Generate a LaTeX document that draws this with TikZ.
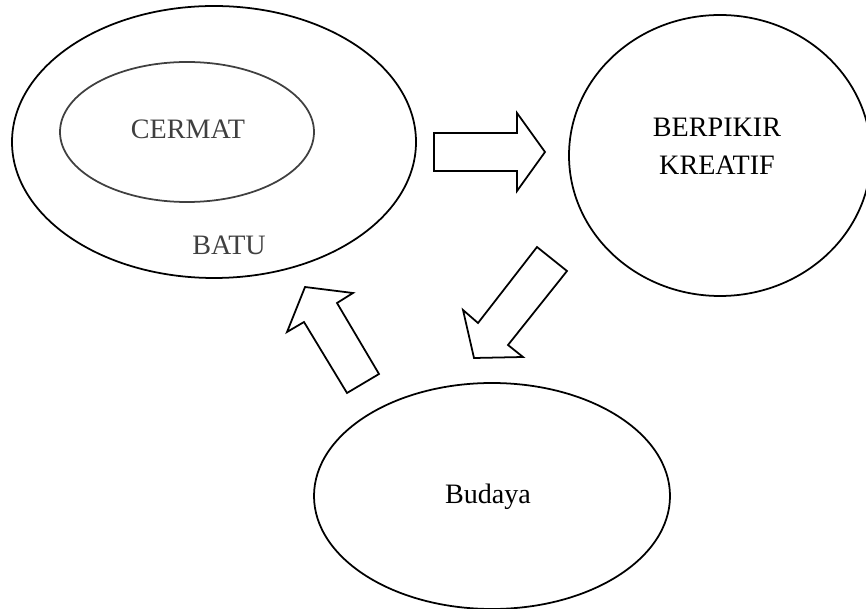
\documentclass[tikz,border=0pt]{standalone}
\usepackage{fontspec}
\setmainfont{Liberation Serif}
\usepackage{tikz}

\begin{document}
\begin{tikzpicture}[x=0.2mm,y=-0.2mm]
\tikzstyle{every node}+=[inner sep=0pt,font=\fontsize{16}{21.5}\selectfont]
\tikzstyle{blok}=[black,line width=1pt,line join=miter]
\clip (0,0) rectangle (866,609);
\useasboundingbox (0,0) rectangle (866,609);
% BATU and CERMAT
\draw [black,line width=1pt] (214,142) ellipse (202 and 136);
\draw [black!75,line width=1pt] (187,132) ellipse (127 and 70);
\node [text=black!75] (cermat) at (188,129) {CERMAT};
\node [text=black!75] (batu) at (229,245) {BATU};
% BERPIKIR KREATIF
\draw [black,line width=1pt] (720,155.5) ellipse (151 and 140.5);
\node [align=center] (kreatif) at (717,146) {BERPIKIR\\KREATIF};
% Budaya
\draw [black,line width=1pt] (492,496) ellipse (178 and 113);
\node (budaya) at (488,497) {Budaya};
% arrows
\draw [blok] (434,133) -- (517,133) -- (517,113) -- (545,152) -- (517,191) -- (517,171) -- (434,171) -- cycle;
\draw [blok] (537,247) -- (567,271) -- (508,345) -- (523,357) -- (474,358) -- (463,310) -- (478,323) -- cycle;
\draw [blok] (379,374) -- (347,393) -- (304,322) -- (287,332) -- (305,287) -- (353,293) -- (337,303) -- cycle;
\end{tikzpicture}
\end{document}
